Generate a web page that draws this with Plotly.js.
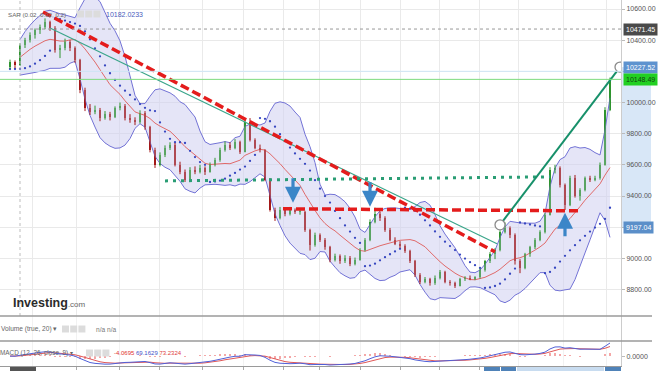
<!DOCTYPE html>
<html><head><meta charset="utf-8">
<script src="https://cdn.plot.ly/plotly-3.0.1.min.js"></script>
<style>html,body{margin:0;padding:0;background:#fff;}#chart{width:669px;height:381px;}</style>
</head><body><div id="chart"></div>
<script>
// ---------- data ----------
const opens = [10230,10260,10240,10370,10400,10435,10465,10485,10515,10480,10340,10350,10390,10350,10270,10080,9965,9940,9950,9900,
9925,9910,9965,9980,9900,9890,9875,9935,9840,9695,9600,9665,9710,9730,9600,9555,9505,9570,9555,9580,
9555,9600,9630,9695,9730,9710,9745,9685,9875,9760,9710,9695,9505,9310,9260,9310,9285,9310,9300,9300,
9180,9085,9150,9120,9070,8990,9015,8980,9005,8965,8990,9055,9120,9235,9285,9260,9180,9120,9095,9080,
9045,8980,8895,8850,8865,8840,8875,8915,8850,8840,8825,8865,8875,8870,8880,8925,8980,9025,9055,9170,
9195,9150,8980,8940,9025,9070,9120,9170,9280,9570,9580,9470,9345,9515,9400,9440,9515,9505,9515,9600,9955];
const highs = [10275,10270,10380,10415,10450,10475,10500,10540,10525,10490,10370,10410,10400,10360,10280,10095,9990,9980,9965,9945,
9940,9975,10000,9990,9925,9905,9950,9945,9850,9710,9680,9725,9745,9740,9620,9570,9585,9590,9600,9590,
9615,9645,9710,9750,9745,9765,9755,9890,9900,9770,9730,9700,9515,9325,9330,9325,9330,9320,9315,9305,
9190,9165,9160,9130,9080,9030,9025,9020,9015,9005,9065,9130,9250,9325,9300,9270,9195,9135,9110,9090,
9055,8990,8905,8880,8875,8890,8925,8920,8860,8850,8875,8885,8890,8885,8935,8990,9040,9065,9180,9230,
9205,9160,8995,9035,9080,9130,9180,9290,9585,9600,9590,9480,9530,9535,9450,9525,9530,9530,9615,9970,10160];
const lows = [10215,10220,10235,10350,10385,10410,10440,10470,10460,10320,10285,10335,10330,10255,10060,9945,9920,9925,9880,9890,
9885,9900,9950,9885,9870,9855,9865,9825,9680,9580,9590,9650,9695,9590,9540,9490,9500,9540,9545,9535,
9550,9590,9620,9685,9695,9700,9670,9680,9750,9700,9680,9495,9300,9240,9250,9270,9275,9285,9280,9170,
9050,9075,9105,9055,8975,8980,8965,8970,8950,8955,8985,9045,9110,9225,9240,9170,9110,9085,9065,9035,
8970,8880,8835,8840,8825,8830,8865,8840,8825,8810,8820,8855,8860,8860,8870,8915,8970,8995,9045,9160,
9130,8960,8905,8930,9010,9060,9110,9160,9275,9545,9455,9310,9335,9390,9370,9430,9490,9495,9505,9595,9945];
const closes = [10260,10240,10370,10400,10435,10465,10485,10515,10480,10340,10350,10390,10350,10270,10080,9965,9940,9950,9900,9925,
9910,9965,9980,9900,9890,9875,9935,9840,9695,9600,9665,9710,9730,9600,9555,9505,9570,9555,9580,9555,
9600,9630,9695,9730,9710,9745,9685,9875,9760,9710,9695,9505,9310,9260,9310,9285,9310,9300,9300,9180,
9085,9150,9120,9070,8990,9015,8980,9005,8965,8990,9055,9120,9235,9285,9260,9180,9120,9095,9080,9045,
8980,8895,8850,8865,8840,8875,8915,8850,8840,8825,8865,8875,8870,8880,8925,8980,9025,9055,9170,9195,
9150,8980,8940,9025,9070,9120,9170,9280,9570,9580,9470,9345,9515,9400,9440,9515,9505,9515,9600,9955,10148.49];

const priceTicks = [8800,9000,9200,9400,9600,9800,10000,10200,10400,10600];
const priceTickText = ['8800.00','9000.00','9200.00','9400.00','9600.00','9800.00','10000.00','','10400.00','10600.00'];
const timeGrid = [4.4,13.2,21.8,29.8,38.4,46.6,54.6,61.8,70,78,85.8,93.8,101.6,110.6,119.2];

const levelValues = [10471.45, 10227.52, 10148.49, 9197.04];
const levelLabels = ['10471.45','10227.52','10148.49','9197.04'];

const redTrendX = [6.6, 97],    redTrendY = [10581, 9042];
const tealTrendX = [8, 97.4],   tealTrendY = [10478, 9094];
const supportX = [31, 108],     supportY = [9497, 9523];
const redLevelX = [54.6, 113.6],redLevelY = [9318, 9305];
const greenTrendX = [98, 122],  greenTrendY = [9215, 10227.52];
const arrowX = [56.6, 72, 111], arrowY = [9356, 9331, 9292], arrowUp = [false, false, true];

const sarLabel = 'SAR (0.02, 0.02, 0.2)', sarValue = '10182.0233';
const volumeLabel = 'Volume (true, 20) \u25BE', volumeValue = 'n/a n/a';
const macdLabel = 'MACD (12, 26, close, 9) \u25BE';
const macdValues = ['-4.0695', '69.1629', '73.2324'];

// ---------- indicators derived from the candles ----------
const N = closes.length;
const idx = closes.map((_, i) => i);

const bbPeriod = 12;
const bx = [], bMid = [], bUp = [], bLo = [];
for (let i = 2; i < N; i++) {
  const k = Math.min(bbPeriod, i + 1);
  const w = closes.slice(i - k + 1, i + 1);
  const m = w.reduce((a, b) => a + b, 0) / k;
  const sd = Math.sqrt(w.reduce((a, b) => a + (b - m) * (b - m), 0) / k);
  bx.push(i); bMid.push(m); bUp.push(m + 2 * sd); bLo.push(m - 2 * sd);
}

function psar(h, l, af0, step, afMax) {
  const out = [];
  let up = true, af = af0, ep = h[0], s = l[0];
  out.push(s);
  for (let i = 1; i < h.length; i++) {
    s = s + af * (ep - s);
    if (up) {
      s = Math.min(s, l[i - 1], i > 1 ? l[i - 2] : l[i - 1]);
      if (l[i] < s) { up = false; s = ep; ep = l[i]; af = af0; }
      else if (h[i] > ep) { ep = h[i]; af = Math.min(af + step, afMax); }
    } else {
      s = Math.max(s, h[i - 1], i > 1 ? h[i - 2] : h[i - 1]);
      if (h[i] > s) { up = true; s = ep; ep = h[i]; af = af0; }
      else if (l[i] < ep) { ep = l[i]; af = Math.min(af + step, afMax); }
    }
    out.push(s);
  }
  return out;
}
const sar = psar(highs, lows, 0.02, 0.02, 0.2);

function ema(a, n) {
  const k = 2 / (n + 1); const out = []; let e = a[0];
  a.forEach((v, i) => { e = i === 0 ? v : v * k + e * (1 - k); out.push(e); });
  return out;
}
const eF = ema(closes, 7), eS = ema(closes, 16);
const macd = eF.map((v, i) => v - eS[i]);
const signal = ema(macd, 5);
const hist = macd.map((v, i) => v - signal[i]);
const mHi = Math.max(...macd, ...signal), mLo = Math.min(...macd, ...signal);
const mR = (mHi - mLo) * 25 / 22;
const m0 = mLo - mR / 25;

// candle pieces (bodies as bars, wicks as line segments)
const GREEN = '#2f942f', RED = '#a31818';
function bodies(rising) {
  const x = [], base = [], h = [];
  idx.forEach(i => {
    const up = closes[i] >= opens[i];
    if (up === rising) { x.push(i); base.push(Math.min(opens[i], closes[i])); h.push(Math.max(Math.abs(closes[i] - opens[i]), 4)); }
  });
  return {x, base, h};
}
function wicks(rising) {
  const x = [], y = [];
  idx.forEach(i => {
    const up = closes[i] >= opens[i];
    if (up === rising) { x.push(i, i, null); y.push(lows[i], highs[i], null); }
  });
  return {x, y};
}
const bU = bodies(true), bD = bodies(false), wU = wicks(true), wD = wicks(false);

// ---------- geometry ----------
const plotW = 621, plotH = 366;
const PX = p => p / plotW;
const PY = p => (plotH - p) / plotH;

const font = 'Liberation Sans, Arial, sans-serif';

const traces = [
  {x: bx, y: bLo, mode: 'lines', line: {color: '#7373d6', width: 1}},
  {x: bx, y: bUp, mode: 'lines', line: {color: '#7373d6', width: 1}, fill: 'tonexty', fillcolor: 'rgba(208,208,241,0.55)'},
  {x: bx, y: bMid, mode: 'lines', line: {color: '#e06a6a', width: 1}},
  {x: idx, y: sar, mode: 'markers', marker: {color: '#3747c0', size: 2.3}},
  {x: wU.x, y: wU.y, mode: 'lines', line: {color: GREEN, width: 1}},
  {x: wD.x, y: wD.y, mode: 'lines', line: {color: RED, width: 1}},
  {type: 'bar', x: bU.x, base: bU.base, y: bU.h, width: 0.5, marker: {color: GREEN, line: {width: 0}}},
  {type: 'bar', x: bD.x, base: bD.base, y: bD.h, width: 0.5, marker: {color: RED, line: {width: 0}}},
  {x: tealTrendX, y: tealTrendY, mode: 'lines', line: {color: '#3aa58a', width: 1.2}},
  {x: redTrendX, y: redTrendY, mode: 'lines', line: {color: '#e41c1c', width: 3.5, dash: '9px,4px'}},
  {x: supportX, y: supportY, mode: 'lines', line: {color: '#2a9d74', width: 3, dash: '3px,5px'}},
  {x: redLevelX, y: redLevelY, mode: 'lines', line: {color: '#e41c1c', width: 3.5, dash: '9px,4px'}},
  {x: greenTrendX, y: greenTrendY, mode: 'lines', line: {color: '#17906a', width: 2}},
  {x: greenTrendX, y: greenTrendY, mode: 'markers', marker: {size: 10, color: '#ffffff', line: {color: '#8a8a8a', width: 1.3}}},
  {x: [0], y: [0], mode: 'none', xaxis: 'x2', yaxis: 'y2'},
  {type: 'bar', x: idx, y: hist, marker: {color: 'rgba(240,130,130,0.7)'}, width: 0.35, xaxis: 'x3', yaxis: 'y3'},
  {x: idx, y: signal, mode: 'lines', line: {color: '#e05858', width: 1}, xaxis: 'x3', yaxis: 'y3'},
  {x: idx, y: macd, mode: 'lines', line: {color: '#5060d8', width: 1}, xaxis: 'x3', yaxis: 'y3'}
];

const xr = [-2, 122.2];
const baseX = {range: xr, showticklabels: false, tickvals: timeGrid, gridcolor: '#eaeaea', gridwidth: 1,
  zeroline: false, fixedrange: true, ticks: ''};

const shapes = [];
shapes.push({type: 'line', xref: 'x', yref: 'paper', x0: 2, x1: 2, y0: PY(316), y1: 1, line: {color: '#bdbdbd', width: 1, dash: 'dot'}});
shapes.push({type: 'line', xref: 'paper', yref: 'y', x0: 0, x1: PX(623), y0: 10200, y1: 10200, line: {color: '#cfe6f6', width: 1}});
shapes.push({type: 'line', xref: 'paper', yref: 'y', x0: 0, x1: PX(623), y0: levelValues[0], y1: levelValues[0], line: {color: '#999999', width: 1, dash: 'dot'}});
shapes.push({type: 'line', xref: 'paper', yref: 'y', x0: 0, x1: 1, y0: levelValues[2], y1: levelValues[2], line: {color: '#7edc7e', width: 1}});
shapes.push({type: 'rect', xref: 'paper', yref: 'y', x0: PX(622), x1: PX(651), y0: levelValues[3], y1: levelValues[1], fillcolor: '#d8e7f7', line: {width: 0}, layer: 'below'});
[316, 341].forEach(p => shapes.push({type: 'line', xref: 'paper', yref: 'paper', x0: 0, x1: PX(652), y0: PY(p), y1: PY(p), line: {color: '#9a9a9a', width: 1.3}}));
[[77, 14], [62, 329], [86, 353]].forEach(([sx, sy]) => {
  for (let j = 0; j < 3; j++) {
    const x0 = sx + j * 8.2;
    shapes.push({type: 'rect', xref: 'paper', yref: 'paper', x0: PX(x0), x1: PX(x0 + 7), y0: PY(sy + 3.5), y1: PY(sy - 3.5), fillcolor: '#dcdcdc', line: {width: 0}});
  }
});
[[10, 36, '#555555'], [484, 500, '#4f82b8'], [501, 516, '#4f82b8'], [517, 604, '#c8dcf0'], [605, 621, '#4f82b8']].forEach(([a, b, c]) =>
  shapes.push({type: 'rect', xref: 'paper', yref: 'paper', x0: PX(a), x1: PX(b), y0: PY(367), y1: PY(371), fillcolor: c, line: {width: 0}}));

const annotations = [];
const levelStyles = [
  {bg: '#4a4a4a', fc: '#ffffff'}, {bg: '#5e93cf', fc: '#ffffff'},
  {bg: '#22d022', fc: '#114411'}, {bg: '#5b8fc9', fc: '#ffffff'}];
levelValues.forEach((v, i) => annotations.push({xref: 'paper', yref: 'y', x: PX(623), y: v, xanchor: 'left', yanchor: 'middle',
  text: levelLabels[i], showarrow: false, bgcolor: levelStyles[i].bg, borderpad: 2,
  font: {family: font, size: 7, color: levelStyles[i].fc}}));
arrowX.forEach((x, i) => annotations.push({xref: 'x', yref: 'y', x: x, y: arrowY[i], text: '', showarrow: true,
  ax: 0, ay: arrowUp[i] ? 25 : -26, arrowhead: 2, arrowsize: 1, arrowwidth: 3.2, arrowcolor: '#3b86c8', standoff: 0}));
function label(txt, px, py, color, size) {
  annotations.push({xref: 'paper', yref: 'paper', x: PX(px), y: PY(py), xanchor: 'left', yanchor: 'middle', text: txt,
    showarrow: false, font: {family: font, size: size || 7, color: color}});
}
label(sarLabel, 6, 14, '#666666', 6.2);
label(sarValue, 104, 14, '#4c5cbc', 7);
label(volumeLabel, -1, 329, '#666666', 6.6);
label(volumeValue, 94, 329, '#777777', 6.6);
label(macdLabel, -2, 353, '#666666', 6.4);
label('<span style="color:#e0302f">' + macdValues[0] + '</span> <span style="color:#3f4fc8">' + macdValues[1] +
  '</span> <span style="color:#e04040">' + macdValues[2] + '</span>', 112, 353, '#e0302f', 6);
label('<b>Investing</b><span style="font-size:8px;font-weight:normal;color:#666">.com</span>', 11, 303, '#2b2b2b', 12.5);

const layout = {
  width: 669, height: 381, margin: {l: 0, r: 48, t: 0, b: 15},
  paper_bgcolor: '#ffffff', plot_bgcolor: '#ffffff', showlegend: false, barmode: 'overlay', bargap: 0,
  font: {family: font, size: 7, color: '#555'},
  xaxis: Object.assign({}, baseX, {anchor: 'y'}),
  xaxis2: Object.assign({}, baseX, {anchor: 'y2', gridcolor: '#f2f2f2'}),
  xaxis3: Object.assign({}, baseX, {anchor: 'y3', gridcolor: '#f2f2f2', ticks: 'outside', ticklen: 3, tickcolor: '#aaaaaa',
    showline: true, linecolor: '#9a9a9a', linewidth: 1}),
  yaxis: {domain: [PY(316), 1], range: [8630, 10657.8], side: 'right', anchor: 'x', tickvals: priceTicks, ticktext: priceTickText,
    ticks: 'outside', ticklen: 3, tickcolor: '#bbbbbb', gridcolor: '#e9e9e9', showline: true, linecolor: '#cccccc',
    zeroline: false, fixedrange: true, tickfont: {family: font, size: 7, color: '#555'}},
  yaxis2: {domain: [PY(341), PY(316)], range: [0, 1], side: 'right', anchor: 'x2', showticklabels: false, showgrid: false,
    zeroline: false, showline: true, linecolor: '#cccccc', fixedrange: true},
  yaxis3: {domain: [0, PY(341)], range: [m0, m0 + mR], side: 'right', anchor: 'x3', tickvals: [0], ticktext: ['0.0000'],
    ticks: 'outside', ticklen: 3, tickcolor: '#bbbbbb', showgrid: false, zeroline: false, showline: true, linecolor: '#cccccc',
    fixedrange: true, tickfont: {family: font, size: 7, color: '#555'}},
  shapes: shapes, annotations: annotations
};
traces.forEach(t => { if (!t.xaxis) { t.xaxis = 'x'; t.yaxis = 'y'; } if (!t.type) t.type = 'scatter'; t.hoverinfo = 'skip'; });
Plotly.newPlot('chart', traces, layout, {staticPlot: true, displayModeBar: false});
</script></body></html>
